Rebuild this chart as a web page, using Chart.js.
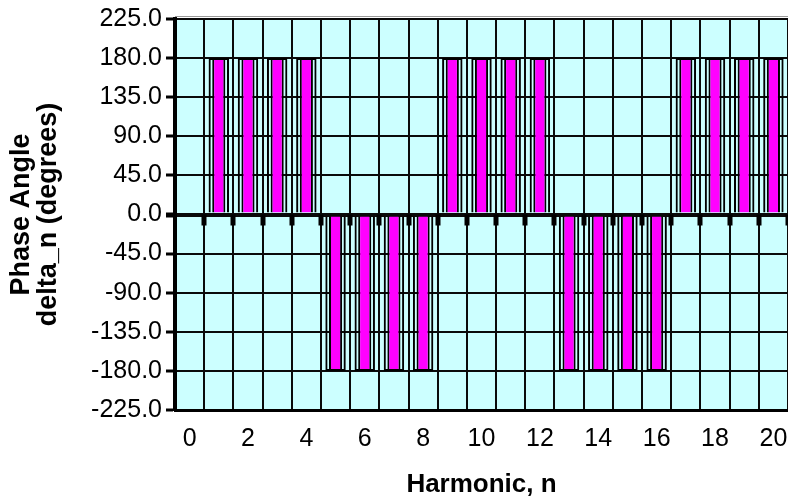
<!DOCTYPE html>
<html>
<head>
<meta charset="utf-8">
<title>Phase Angle vs Harmonic</title>
<script src="https://cdn.jsdelivr.net/npm/chart.js@4/dist/chart.umd.min.js"></script>
<style>
	body { margin: 0; background: #fff; }
	#wrap { width: 788px; height: 500px; position: relative; }
</style>
</head>
<body>
<div id="wrap"><canvas id="phaseChart"></canvas></div>
<script>
// Harmonic numbers (categories)
var harmonics = ['0', '1', '2', '3', '4', '5', '6', '7', '8', '9', '10',
	'11', '12', '13', '14', '15', '16', '17', '18', '19', '20'];
// Phase angle delta_n in degrees
var phaseDeg = [0, 180, 180, 180, 180, -180, -180, -180, -180, 180, 180,
	180, 180, -180, -180, -180, -180, 180, 180, 180, 180];
// Y axis limits / step
var yTicks = [-225, -180, -135, -90, -45, 0, 45, 90, 135, 180, 225];

var PHASECHART = (function() {
	var chart = false;
	var FONT = "'Liberation Sans', Arial, sans-serif";

	// Cyan plot background + little tick marks under the zero axis
	var excelPlugin = {
		id: 'excelLook',
		beforeDraw: function(c) {
			var a = c.chartArea;
			c.ctx.save();
			c.ctx.fillStyle = '#ccffff';
			c.ctx.fillRect(a.left, a.top, a.right - a.left, a.bottom - a.top);
			// grey rule above the plot frame
			c.ctx.fillStyle = '#999';
			c.ctx.fillRect(a.left, a.top - 3, a.right - a.left, 1);
			c.ctx.restore();
		},
		afterDraw: function(c) {
			var x = c.scales.x, y = c.scales.y, ctx = c.ctx;
			var y0 = y.getPixelForValue(0);
			var half = (x.getPixelForValue(1) - x.getPixelForValue(0)) / 2;
			ctx.save();
			ctx.fillStyle = '#000';
			for (var i = 0; i < harmonics.length; i++) {
				var bx = x.getPixelForValue(i) + half;
				ctx.fillRect(Math.round(bx) - 2.5, y0, 5, 11);
			}
			ctx.restore();
		}
	};

	function init() {
		var ctx = document.getElementById('phaseChart');
		chart = new Chart(ctx, {
			type: 'bar',
			data: {
				labels: harmonics,
				datasets: [{
					// magenta bars
					data: phaseDeg,
					backgroundColor: '#ff00ff',
					borderColor: '#000',
					borderWidth: 2,
					barPercentage: 0.45,
					categoryPercentage: 1,
					grouped: false,
					order: 1
				}, {
					// thin outline box round each bar
					data: phaseDeg,
					backgroundColor: 'rgba(0,0,0,0)',
					borderColor: '#000',
					borderWidth: 2,
					barPercentage: 0.7,
					categoryPercentage: 1,
					grouped: false,
					order: 2
				}]
			},
			options: {
				responsive: true,
				maintainAspectRatio: false,
				animation: false,
				layout: { padding: { top: 18, right: 0, bottom: 0, left: 0 } },
				plugins: {
					legend: { display: false },
					tooltip: { enabled: false }
				},
				scales: {
					x: {
						grid: { color: '#0a0a0a', lineWidth: 2, drawTicks: false, offset: true },
						border: { display: true, color: '#000', width: 3 },
						ticks: {
							autoSkip: false, maxRotation: 0, padding: 14, color: '#000',
							font: { family: FONT, size: 25 },
							callback: function(val, idx) { return idx % 2 === 0 ? harmonics[idx] : ''; }
						},
						title: {
							display: true, text: 'Harmonic, n', color: '#000',
							font: { family: FONT, size: 26, weight: 'bold', lineHeight: 1 },
							padding: { top: 0, bottom: 2 }
						},
						afterFit: function(s) { s.height = 90; s.paddingLeft = 0; s.paddingRight = 0; }
					},
					y: {
						min: yTicks[0],
						max: yTicks[yTicks.length - 1],
						afterBuildTicks: function(s) {
							s.ticks = yTicks.map(function(v) { return { value: v }; });
						},
						grid: {
							color: '#0a0a0a',
							lineWidth: function(c) { return c.tick && c.tick.value === 0 ? 4 : 2; },
							tickColor: '#000',
							tickLength: 9,
							tickWidth: function(c) { return c.tick && c.tick.value === 0 ? 5 : 3; }
						},
						border: { display: true, color: '#000', width: 4 },
						ticks: {
							padding: 4, color: '#000',
							font: { family: FONT, size: 25 },
							callback: function(v) { return Number(v).toFixed(1); }
						},
						title: {
							display: true, text: ['Phase Angle', 'delta_n (degrees)'], color: '#000',
							font: { family: FONT, size: 27, weight: 'bold', lineHeight: 1 },
							padding: { top: 8, bottom: 0 }
						},
						afterFit: function(s) { s.width = 175; }
					}
				}
			},
			plugins: [excelPlugin]
		});
		return chart;
	}

	return {
		init: function() {
			return init();
		}
	}
})();

PHASECHART.init();
</script>
</body>
</html>
